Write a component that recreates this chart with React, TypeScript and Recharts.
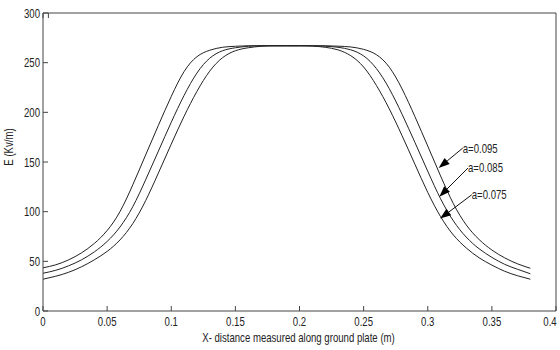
import { LineChart, Line, XAxis, YAxis, ReferenceLine } from "recharts";

// x positions along the plate (m)
const xValues = [
  0, 0.01, 0.02, 0.03, 0.04, 0.05, 0.06, 0.07, 0.08, 0.09, 0.1, 0.11, 0.12, 0.13,
  0.14, 0.15, 0.16, 0.17, 0.18, 0.19, 0.2, 0.21, 0.22, 0.23, 0.24, 0.25, 0.26,
  0.27, 0.28, 0.29, 0.3, 0.31, 0.32, 0.33, 0.34, 0.35, 0.36, 0.37, 0.38,
];

// E (Kv/m) for each electrode radius
const eA095 = [
  43.5, 46.5, 51.5, 58.5, 68, 81, 100, 127, 157, 187, 216, 241, 256, 262.5, 265.5,
  266.5, 267, 267, 267, 267, 267, 267, 267, 266.6, 265.8, 263.4, 258, 245.5, 223.5,
  195.7, 166, 136, 108, 86.7, 72, 61.4, 53.5, 47.5, 43,
];
const eA085 = [
  38, 41, 45.5, 51.5, 59.5, 70, 84.5, 105, 132, 161, 190, 217, 239.5, 254.5, 262,
  265, 266.5, 267, 267, 267, 267, 267, 266.6, 265.5, 262.9, 256.8, 244, 223.8,
  198, 169.7, 140.7, 113, 90.7, 74.4, 62.7, 54, 47, 42, 37.5,
];
const eA075 = [
  32, 35, 39, 44.5, 51.5, 60, 71.5, 88, 111, 139, 168, 196, 221, 241.5, 255, 262,
  265, 266.5, 267, 267, 267, 266.7, 265.5, 262.9, 257, 245.6, 227, 203.5, 176.4,
  147.7, 119.4, 95, 76.5, 63.5, 53.6, 46.2, 40, 35.5, 32,
];

const xTicks = [0, 0.05, 0.1, 0.15, 0.2, 0.25, 0.3, 0.35, 0.4];
const yTicks = [0, 50, 100, 150, 200, 250, 300];

// annotation arrows: tip on the curve, tail where the label starts (data units)
const annotations = [
  { label: "a=0.095", tip: { x: 0.3085, y: 144 }, tail: { x: 0.3273, y: 164 } },
  { label: "a=0.085", tip: { x: 0.309, y: 115 }, tail: { x: 0.3314, y: 144 } },
  { label: "a=0.075", tip: { x: 0.3096, y: 93 }, tail: { x: 0.3343, y: 117 } },
];

const data = xValues.map((x, i) => ({
  x,
  a095: eA095[i],
  a085: eA085[i],
  a075: eA075[i],
}));

const FONT = "'Liberation Sans', Arial, sans-serif";
const AXIS = "#444";
const INK = "#222";

// MATLAB-ish condensed text: Liberation Sans squeezed horizontally
const Narrow = ({ x, y, anchor = "start", rotate = false, children }: any) => (
  <text
    transform={`translate(${x},${y})${rotate ? " rotate(-90)" : ""} scale(0.8,1)`}
    textAnchor={anchor}
    fontSize={12}
    fontFamily={FONT}
    fill={INK}
  >
    {children}
  </text>
);

const XTick = (p: any) => (
  <Narrow x={p.x} y={p.y + 9} anchor="middle">
    {String(p.payload.value)}
  </Narrow>
);

const YTick = (p: any) => (
  <Narrow x={p.x} y={p.y + 4.5} anchor="end">
    {String(p.payload.value)}
  </Narrow>
);

const XLabel = (props: any) => {
  const vb = props.viewBox;
  return (
    <Narrow x={vb.x + vb.width / 2 - 1} y={vb.y + 31} anchor="middle">
      X- distance measured along ground plate (m)
    </Narrow>
  );
};

const YLabel = (props: any) => {
  const vb = props.viewBox;
  return (
    <Narrow x={vb.x + 12.5} y={vb.y + vb.height / 2 - 15} anchor="middle" rotate>
      E (Kv/m)
    </Narrow>
  );
};

const arrowShape = (label: string) => (p: any) => {
  const { x1, y1, x2, y2 } = p;
  // x1,y1 = tip ; x2,y2 = tail
  const dx = x1 - x2;
  const dy = y1 - y2;
  const len = Math.sqrt(dx * dx + dy * dy) || 1;
  const ux = dx / len;
  const uy = dy / len;
  const hl = 11;
  const hw = 4;
  const bx = x1 - ux * hl;
  const by = y1 - uy * hl;
  const pts = `${x1},${y1} ${bx - uy * hw},${by + ux * hw} ${bx + uy * hw},${by - ux * hw}`;
  return (
    <g>
      <line x1={x2} y1={y2} x2={bx} y2={by} stroke="#111" strokeWidth={1} />
      <polygon points={pts} fill="#000" />
      <Narrow x={x2} y={y2 + 4.5}>
        {label}
      </Narrow>
    </g>
  );
};

export default function App() {
  return (
    <div style={{ position: "absolute", left: 0, top: 0, background: "#fff" }}>
      <LineChart
        width={560}
        height={350}
        data={data}
        margin={{ top: 12, right: 3, bottom: 0, left: 0 }}
      >
        <XAxis
          dataKey="x"
          type="number"
          domain={[0, 0.4]}
          ticks={xTicks}
          height={39}
          tickSize={-5}
          tickMargin={11}
          stroke={AXIS}
          tick={<XTick />}
          label={<XLabel />}
        />
        <XAxis
          xAxisId="top"
          orientation="top"
          type="number"
          domain={[0, 0.4]}
          ticks={xTicks}
          height={1}
          tickSize={-5}
          stroke={AXIS}
          tickFormatter={() => ""}
        />
        <YAxis
          type="number"
          domain={[0, 300]}
          ticks={yTicks}
          width={43}
          tickSize={-5}
          tickMargin={8}
          stroke={AXIS}
          tick={<YTick />}
          label={<YLabel />}
        />
        <YAxis
          yAxisId="right"
          orientation="right"
          type="number"
          domain={[0, 300]}
          ticks={yTicks}
          width={1}
          tickSize={-5}
          stroke={AXIS}
          tickFormatter={() => ""}
        />
        <Line type="natural" dataKey="a095" stroke={INK} strokeWidth={1} dot={false} isAnimationActive={false} />
        <Line type="natural" dataKey="a085" stroke={INK} strokeWidth={1} dot={false} isAnimationActive={false} />
        <Line type="natural" dataKey="a075" stroke={INK} strokeWidth={1} dot={false} isAnimationActive={false} />
        {annotations.map((a) => (
          <ReferenceLine
            key={a.label}
            segment={[a.tip, a.tail]}
            stroke="#111"
            shape={arrowShape(a.label)}
          />
        ))}
      </LineChart>
    </div>
  );
}
